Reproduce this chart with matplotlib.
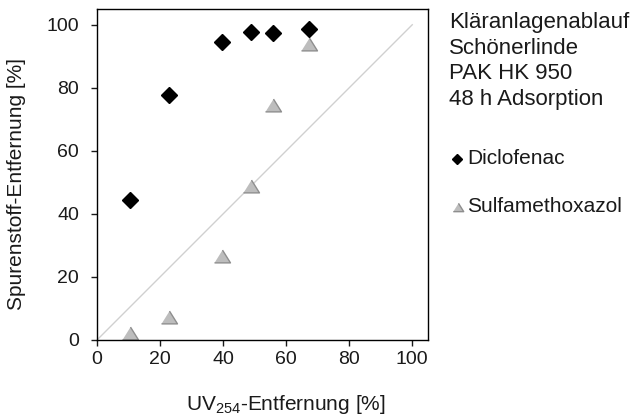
import matplotlib
matplotlib.use("Agg")
import matplotlib.pyplot as plt

plt.rcParams['font.family'] = ['Liberation Sans', 'DejaVu Sans']
plt.rcParams['mathtext.fontset'] = 'custom'
plt.rcParams['mathtext.rm'] = 'Liberation Sans'
plt.rcParams['mathtext.it'] = 'Liberation Sans:italic'
plt.rcParams['mathtext.bf'] = 'Liberation Sans:bold'

uv_removal = [10.6, 22.8, 39.5, 48.7, 55.9, 67.1]
diclofenac = [44.3, 77.8, 94.5, 97.6, 97.3, 98.7]
sulfamethoxazol = [2.1, 7.2, 26.5, 48.8, 74.5, 94.0]
ticks = [0, 20, 40, 60, 80, 100]
info_lines = ["Kläranlagenablauf", "Schönerlinde", "PAK HK 950", "48 h Adsorption"]
series_names = ["Diclofenac", "Sulfamethoxazol"]

W, H = 636, 418
fig = plt.figure(figsize=(W / 100, H / 100), dpi=100)
ax = fig.add_axes([97 / W, 1 - 340 / H, (428 - 97) / W, (340 - 9) / H])

tri = [(-1, -0.8), (1, -0.8), (0, 0.8)]
dia_style = dict(ls='none', marker='D', color='black')
tri_style = dict(ls='none', marker=tri, markerfacecolor='#bdbdbd',
                 markeredgecolor='#8e8e8e', markeredgewidth=1)

ax.plot([0, 100], [0, 100], color='#d0d0d0', lw=1, zorder=1)
ax.plot(uv_removal, diclofenac, ms=8, zorder=3, **dia_style)
ax.plot(uv_removal, sulfamethoxazol, ms=11.5, zorder=2, **tri_style)

ax.set_xlim(0, 105)
ax.set_ylim(0, 105)
ax.set_xticks(ticks)
ax.set_yticks(ticks)
ax.tick_params(direction='out', length=4.5, width=1, labelsize=14, colors='#1a1a1a')
ax.tick_params(axis='x', pad=3.5)
ax.tick_params(axis='y', pad=8.5)
for s in ax.spines.values():
    s.set_linewidth(1)
    s.set_color('black')

fig.text(286 / W, 1 - 410 / H, r'UV$_{\mathrm{254}}$-Entfernung [%]', fontsize=15,
         ha='center', va='baseline', color='#1a1a1a')
fig.text(17 / W, 1 - 184 / H, 'Spurenstoff-Entfernung [%]', fontsize=15,
         ha='center', va='center', rotation=90, color='#1a1a1a')

for i, line in enumerate(info_lines):
    fig.text(449 / W, 1 - (28 + 25.7 * i) / H, line, fontsize=16,
             ha='left', va='baseline', color='#1a1a1a')

# legend entries
leg_y = [159, 207]
fig.lines.append(plt.Line2D([457 / W], [1 - leg_y[0] / H], transform=fig.transFigure,
                            ms=5.2, **dia_style))
fig.lines.append(plt.Line2D([458 / W], [1 - leg_y[1] / H], transform=fig.transFigure,
                            ms=7.5, **tri_style))
for name, y in zip(series_names, leg_y):
    fig.text(467 / W, 1 - y / H, name, fontsize=15, va='center', ha='left',
             color='#1a1a1a')

fig.savefig('out.png', dpi=100)
